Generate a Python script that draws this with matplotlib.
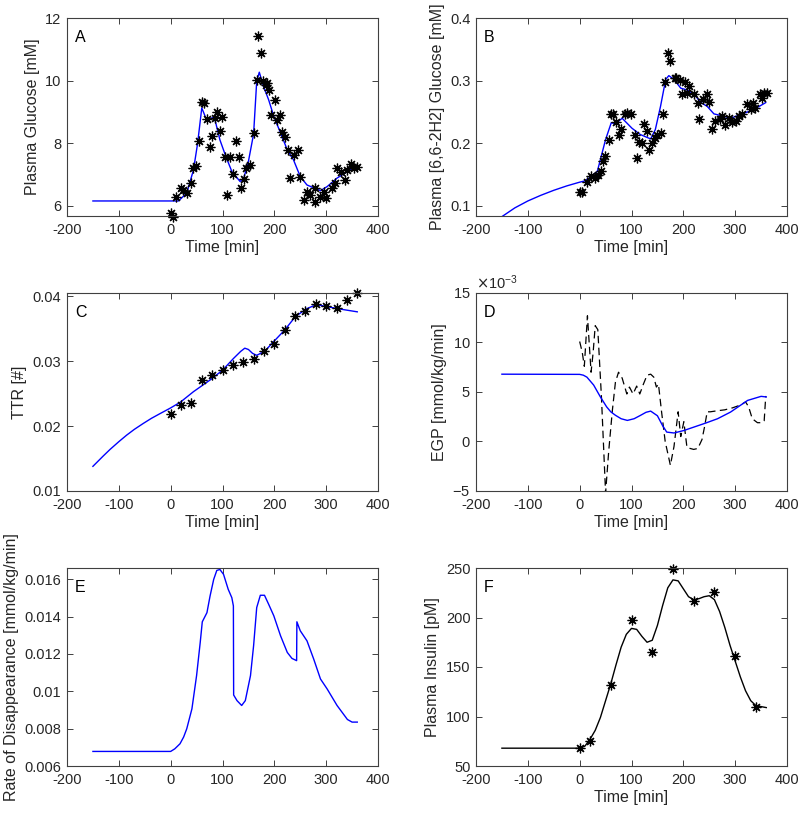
import numpy as np
import matplotlib
matplotlib.use("Agg")
import matplotlib.pyplot as plt
from matplotlib.ticker import ScalarFormatter

plt.rcParams['font.family'] = ['Liberation Sans', 'DejaVu Sans']
plt.rcParams['axes.unicode_minus'] = False

# ---------------- Data ----------------
# Panel A: plasma glucose
a_data_t = [0, 5, 10, 19, 24, 31, 39, 44, 48, 55, 60, 64, 70, 75, 79, 86, 90, 95, 99, 105,
            108, 115, 120, 126, 131, 135, 141, 146, 153, 161, 166, 169, 175, 179, 184, 186, 189, 194, 202, 205,
            210, 215, 220, 226, 231, 237, 246, 250, 257, 263, 269, 279, 279, 289, 295, 300, 311, 318, 321, 329,
            337, 340, 347, 353, 360]
a_data_v = [5.79, 5.66, 6.30, 6.57, 6.51, 6.41, 6.73, 7.21, 7.28, 8.06, 9.32, 9.28, 8.78, 7.89, 8.23, 8.80, 8.99, 8.39, 8.85, 7.57,
            6.35, 7.57, 7.01, 8.06, 7.57, 6.58, 6.86, 7.21, 7.31, 8.33, 10.01, 11.44, 10.87, 9.98, 9.87, 9.93, 9.71, 8.91, 9.39, 8.75,
            8.91, 8.37, 8.21, 7.79, 6.88, 7.63, 7.79, 6.91, 6.19, 6.46, 6.35, 6.57, 6.14, 6.30, 6.46, 6.25, 6.57, 6.73, 7.21, 7.10,
            6.84, 7.16, 7.34, 7.21, 7.26]
a_model_t = [-150, 15, 31, 44, 52, 60, 70, 84, 95, 106, 118, 134, 141, 150, 160, 166, 171, 179, 189, 199,
             212, 225, 237, 250, 263, 289, 302, 321, 341, 360]
a_model_v = [6.16, 6.16, 6.41, 7.15, 8.0, 9.13, 8.72, 8.85, 8.11, 7.60, 7.10, 6.78, 6.89, 7.42, 8.3, 9.98, 10.27, 9.82, 9.39, 8.86,
             8.33, 7.79, 7.47, 6.94, 6.67, 6.49, 6.62, 6.89, 7.10, 7.31]

# Panel B: plasma [6,6-2H2] glucose
b_data_t = [0, 5, 14, 22, 30, 36, 41, 45, 49, 56, 61, 65, 70, 76, 80, 87, 91, 99, 106, 110,
            115, 121, 125, 130, 134, 139, 145, 149, 156, 161, 165, 170, 175, 183, 185, 194, 197, 204, 208, 210,
            220, 228, 230, 238, 245, 249, 255, 262, 270, 275, 281, 288, 294, 301, 307, 313, 322, 330, 335, 339,
            348, 352, 355, 362]
b_data_v = [0.123, 0.122, 0.139, 0.148, 0.145, 0.150, 0.156, 0.171, 0.179, 0.206, 0.247, 0.247, 0.234, 0.214, 0.223, 0.246, 0.248, 0.247, 0.214, 0.177,
            0.202, 0.200, 0.231, 0.219, 0.190, 0.200, 0.208, 0.214, 0.216, 0.247, 0.298, 0.344, 0.331, 0.304, 0.304, 0.301, 0.279, 0.298, 0.280, 0.291,
            0.278, 0.264, 0.239, 0.270, 0.279, 0.266, 0.223, 0.235, 0.239, 0.244, 0.229, 0.240, 0.234, 0.236, 0.243, 0.247, 0.263, 0.255, 0.264, 0.257,
            0.278, 0.272, 0.280, 0.280]
b_model_t = [-150, -125, -100, -75, -50, -25, 0, 10, 17, 34, 50, 61, 69, 82, 101, 117, 137, 146, 156, 166,
             172, 182, 195, 208, 221, 234, 246, 259, 279, 291, 311, 336, 359]
b_model_v = [0.083, 0.097, 0.108, 0.117, 0.125, 0.132, 0.138, 0.140, 0.144, 0.155, 0.206, 0.233, 0.231, 0.240, 0.224, 0.214, 0.207, 0.222, 0.259, 0.302,
             0.308, 0.302, 0.288, 0.285, 0.278, 0.265, 0.259, 0.247, 0.243, 0.240, 0.246, 0.254, 0.265]

# Panel C: TTR
c_data_t = [0, 20, 40, 60, 80, 100, 120, 140, 160, 180, 200, 220, 240, 260, 280, 300, 320, 340, 360]
c_data_v = [0.0218, 0.0233, 0.0236, 0.0271, 0.0278, 0.0286, 0.0294, 0.0299, 0.0304, 0.0315, 0.0327, 0.0348, 0.0369,
            0.0377, 0.0388, 0.0385, 0.0382, 0.0394, 0.0405]
c_model_t = [-150, -130, -117, -100, -85, -70, -53, -37, -21, 0, 19, 44, 76, 100, 121, 135, 143, 150, 158, 166,
             181, 201, 220, 241, 263, 281, 302, 321, 360]
c_model_v = [0.0138, 0.0154, 0.0164, 0.0176, 0.0186, 0.0195, 0.0204, 0.0212, 0.0219, 0.0228, 0.0237, 0.0253, 0.0271, 0.0286, 0.0304,
             0.0315, 0.0320, 0.0318, 0.0312, 0.0309, 0.0315, 0.0332, 0.0348, 0.0369, 0.0381, 0.0387, 0.0384, 0.0381, 0.0376]

# Panel D: EGP (x 1e-3 mmol/kg/min)
d_model_t = [-150, 0, 7, 14, 27, 40, 52, 60, 69, 80, 92, 105, 117, 128, 137, 150, 160, 168, 182, 201,
             220, 243, 266, 291, 324, 350, 360]
d_model_v = [6.8, 6.78, 6.7, 6.5, 5.7, 4.5, 3.5, 3.0, 2.65, 2.3, 2.13, 2.3, 2.63, 2.95, 3.07, 2.6, 1.6, 0.95, 0.86, 1.11,
             1.45, 1.86, 2.3, 2.97, 4.15, 4.56, 4.5]
d_est_t = [0, 5, 9, 15, 22, 26, 30, 35, 42, 50, 56, 63, 69, 75, 82, 91, 96, 103, 110, 116,
           123, 130, 137, 143, 148, 152, 158, 165, 175, 182, 190, 195, 201, 207, 213, 220, 228, 236, 241, 246,
           252, 265, 280, 295, 311, 320, 326, 333, 343, 352, 356, 359]
d_est_v = [10.1, 9.0, 7.6, 12.7, 7.0, 9.0, 11.7, 11.3, 4.5, -5.2, -1.0, 3.1, 6.0, 7.0, 6.4, 4.8, 5.5, 4.8, 5.6, 4.8,
           5.8, 6.7, 6.8, 6.5, 5.5, 5.8, 3.0, 0.0, -2.4, -0.5, 3.0, 0.5, 2.0, -0.6, -0.7, -0.8, -0.7, 0.2, 1.5, 3.0,
           3.0, 3.1, 3.2, 3.4, 3.7, 4.0, 3.5, 2.3, 1.9, 1.9, 2.1, 4.6]

# Panel E: rate of disappearance
e_model_t = [-150, 0, 8, 18, 25, 31, 41, 50, 57, 61, 70, 76, 83, 89, 95, 102, 111, 118, 121, 121.5,
             128, 137, 144, 154, 160, 166, 173, 181, 189, 199, 212, 225, 234, 243, 243.5, 250, 263, 276, 289, 302,
             321, 341, 350, 360]
e_model_v = [0.00678, 0.00678, 0.00692, 0.00719, 0.00755, 0.00799, 0.00906, 0.01084, 0.01261, 0.01372, 0.01421, 0.0151, 0.01599, 0.01647, 0.01652, 0.01626, 0.01546, 0.01501, 0.01457, 0.0098,
             0.0095, 0.00924, 0.0095, 0.01084, 0.01244, 0.01448, 0.01514, 0.01514, 0.01466, 0.01404, 0.01297, 0.01208, 0.01176, 0.01164, 0.01372, 0.01324, 0.0127, 0.01172, 0.01066, 0.01012,
             0.00924, 0.00849, 0.00835, 0.00835]

# Panel F: plasma insulin
f_data_t = [0, 20, 60, 100, 140, 180, 220, 260, 300, 340]
f_data_v = [67.7, 75.5, 132.2, 197.7, 165.4, 249.3, 216.4, 225.6, 161.0, 109.4]
f_model_t = [-150, 0, 10, 20, 30, 40, 50, 60, 70, 80, 90, 100, 110, 120, 130, 140, 150, 160, 170, 180,
             190, 200, 210, 220, 230, 240, 250, 260, 270, 280, 290, 300, 310, 320, 330, 340, 350, 360]
f_model_v = [68, 68, 70, 77, 86, 99, 116, 133, 152, 170, 183, 189, 188, 181, 175, 177, 192, 212, 230, 238,
             237, 229, 221, 218, 219, 221, 222, 218, 206, 190, 172, 156, 140, 126, 116, 111, 110, 109]

# ---------------- Figure ----------------
W, H = 800, 815
fig = plt.figure(figsize=(W / 100, H / 100), dpi=100)

def make_ax(left, top, right, bottom):
    return fig.add_axes([left / W, 1 - bottom / H, (right - left) / W, (bottom - top) / H])

axA = make_ax(67, 18, 378, 216)
axB = make_ax(476, 18, 787, 216)
axC = make_ax(67, 293, 378, 491)
axD = make_ax(476, 293, 787, 491)
axE = make_ax(67, 568, 378, 766)
axF = make_ax(476, 568, 787, 766)

frame_col = '#404040'
text_col = '#262626'
star = dict(marker=(8, 2, 0), linestyle='none', color='black', markersize=7,
            markeredgewidth=0.9, clip_on=False)

def style(ax, letter, ylabel, xlabel=True):
    ax.set_xlim(-200, 400)
    ax.set_xticks([-200, -100, 0, 100, 200, 300, 400])
    ax.tick_params(direction='in', length=4, width=0.7, top=True, right=True,
                   colors=frame_col, labelcolor=text_col, labelsize=10.5)
    ax.tick_params(axis='x', pad=5)
    ax.tick_params(axis='y', pad=4)
    for s in ax.spines.values():
        s.set_color(frame_col)
        s.set_linewidth(0.8)
    ax.text(0.025, 0.94, letter, transform=ax.transAxes, ha='left', va='top',
            fontsize=11.5, color='black')
    ax.set_ylabel(ylabel, fontsize=11.5, color=text_col)
    if xlabel:
        ax.set_xlabel('Time [min]', fontsize=11.5, color=text_col, labelpad=2)

# A
axA.plot(a_model_t, a_model_v, color='blue', lw=1.0)
axA.plot(a_data_t, a_data_v, **star)
axA.set_ylim(5.68, 12)
axA.set_yticks([6, 8, 10, 12])
style(axA, 'A', 'Plasma Glucose [mM]')

# B
axB.plot(b_model_t, b_model_v, color='blue', lw=1.0)
axB.plot(b_data_t, b_data_v, **star)
axB.set_ylim(0.084, 0.4)
axB.set_yticks([0.1, 0.2, 0.3, 0.4])
style(axB, 'B', 'Plasma [6,6-2H2] Glucose [mM]')

# C
axC.plot(c_model_t, c_model_v, color='blue', lw=1.0)
axC.plot(c_data_t, c_data_v, **star)
axC.set_ylim(0.01, 0.0405)
axC.set_yticks([0.01, 0.02, 0.03, 0.04])
style(axC, 'C', 'TTR [#]')

# D
axD.plot(np.array(d_est_t), np.array(d_est_v) * 1e-3, color='black', lw=0.9, dashes=(6, 3.5))
axD.plot(np.array(d_model_t), np.array(d_model_v) * 1e-3, color='blue', lw=1.0)
axD.set_ylim(-5e-3, 15e-3)
axD.set_yticks([-5e-3, 0, 5e-3, 10e-3, 15e-3])
fmt = ScalarFormatter(useMathText=True)
fmt.set_powerlimits((-3, -3))
axD.yaxis.set_major_formatter(fmt)
axD.yaxis.get_offset_text().set_fontsize(10.5)
axD.yaxis.get_offset_text().set_color(text_col)
style(axD, 'D', 'EGP [mmol/kg/min]')

# E
axE.plot(e_model_t, e_model_v, color='blue', lw=1.0)
axE.set_ylim(0.006, 0.0166)
axE.set_yticks([0.006, 0.008, 0.010, 0.012, 0.014, 0.016])
axE.set_yticklabels(['0.006', '0.008', '0.01', '0.012', '0.014', '0.016'])
style(axE, 'E', 'Rate of Disappearance [mmol/kg/min]', xlabel=False)

# F
axF.plot(f_model_t, f_model_v, color='black', lw=1.0)
axF.plot(f_data_t, f_data_v, **star)
axF.set_ylim(50, 250)
axF.set_yticks([50, 100, 150, 200, 250])
style(axF, 'F', 'Plasma Insulin [pM]')

fig.savefig('out.png', dpi=100)
